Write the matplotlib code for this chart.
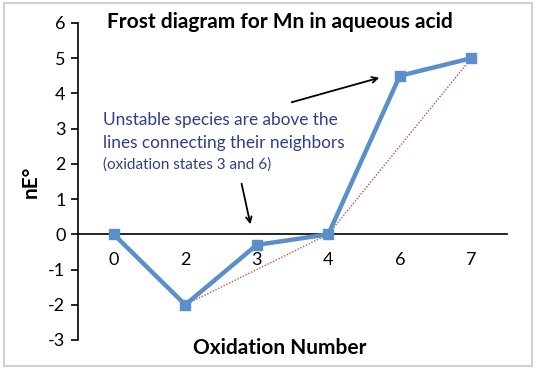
import matplotlib
matplotlib.use('Agg')
import matplotlib.pyplot as plt
from matplotlib.patches import Rectangle

plt.rcParams['font.family'] = ['Lato', 'DejaVu Sans']
plt.rcParams['axes.unicode_minus'] = False

# data
ox_states = ['0', '2', '3', '4', '6', '7']
nE = [0, -2, -0.3, 0, 4.5, 5]
# stable neighbours joined by the dotted red line
hull_states = ['2', '4', '7']
hull_nE = [-2, 0, 5]

pos = list(range(len(ox_states)))
hull_pos = [ox_states.index(s) for s in hull_states]

fig = plt.figure(figsize=(5.36, 3.69), dpi=100)
ax = fig.add_axes([0.1455, 0.0786, 0.8005, 0.8591])

ax.plot(hull_pos, hull_nE, color='#C0504D', lw=1.0, ls=(0, (1, 1.2)), zorder=2)
ax.plot(pos, nE, color='#5B8FCB', lw=3.2, marker='s', ms=7.5, zorder=3)

ax.set_xlim(-0.5, 5.5)
ax.set_ylim(-3, 6)
ax.set_yticks(range(-3, 7))
ax.set_xticks(pos)
ax.set_xticklabels(ox_states)

ax.spines['top'].set_visible(False)
ax.spines['right'].set_visible(False)
ax.spines['bottom'].set_position(('data', 0))
ax.spines['bottom'].set_linewidth(1.2)
ax.spines['left'].set_linewidth(1.2)
ax.tick_params(axis='y', direction='out', length=5, width=1.2, labelsize=13, pad=4)
ax.tick_params(axis='x', length=0, labelsize=13, pad=13)

fig.text(0.522, 0.94, 'Frost diagram for Mn in aqueous acid', fontsize=15,
         fontweight='bold', ha='center', va='center')
ax.set_xlabel('Oxidation Number', fontsize=15, fontweight='bold')
ax.xaxis.set_label_coords(0.47, 0.005)
ax.set_ylabel('nE°', fontsize=15, fontweight='bold')
ax.yaxis.set_label_coords(-0.087, 0.5)

txt_color = '#2E3F8C'
fig.text(0.192, 0.675, 'Unstable species are above the', fontsize=12.4, color=txt_color, va='center')
fig.text(0.192, 0.612, 'lines connecting their neighbors', fontsize=12.4, color=txt_color, va='center')
fig.text(0.192, 0.555, '(oxidation states 3 and 6)', fontsize=11, color=txt_color, va='center')

ax.annotate('', xy=(382, 369 - 77), xytext=(289, 369 - 103), xycoords='figure pixels',
            textcoords='figure pixels', arrowprops=dict(arrowstyle='->', color='black', lw=1.3))
ax.annotate('', xy=(251, 369 - 227), xytext=(241, 369 - 181), xycoords='figure pixels',
            textcoords='figure pixels', arrowprops=dict(arrowstyle='->', color='black', lw=1.3))

fig.patches.append(Rectangle((0.008, 0.008), 0.984, 0.984, transform=fig.transFigure,
                             fill=False, edgecolor='#D0D0D0', lw=1.5))

fig.savefig('out.png', dpi=100)
